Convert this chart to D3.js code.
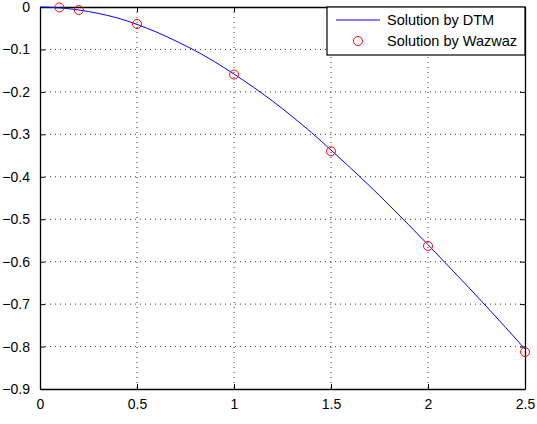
<html>
<head>
    <meta charset="utf-8">
    <title>Solution by DTM vs Wazwaz</title>
    <style>
        body { margin: 0; background: #fff; }
        text { font-family: "Liberation Sans", Arial, Helvetica, sans-serif; }
    </style>
</head>
<body>
    <script src="https://cdn.jsdelivr.net/npm/d3@7"></script>
    <script>
        var width = 537, height = 424;
        var margin = { left: 40, right: 12, top: 7, bottom: 35 };

        // DTM curve
        const dtmX = [0, 0.1, 0.2, 0.3, 0.4, 0.5, 0.6, 0.7, 0.8, 0.9, 1.0, 1.1, 1.2,
            1.3, 1.4, 1.5, 1.6, 1.7, 1.8, 1.9, 2.0, 2.1, 2.2, 2.3, 2.4, 2.5];
        const dtmY = [0, -0.002, -0.007, -0.015, -0.026, -0.041, -0.059, -0.080, -0.103,
            -0.129, -0.158, -0.189, -0.222, -0.258, -0.296, -0.337, -0.379, -0.422,
            -0.467, -0.513, -0.560, -0.608, -0.656, -0.705, -0.755, -0.806];

        // Wazwaz points
        const wazX = [0.1, 0.2, 0.5, 1, 1.5, 2, 2.5];
        const wazY = [-0.001, -0.007, -0.040, -0.159, -0.340, -0.563, -0.813];

        const xTicks = [0, 0.5, 1, 1.5, 2, 2.5];
        const yTicks = [0, -0.1, -0.2, -0.3, -0.4, -0.5, -0.6, -0.7, -0.8, -0.9];
        const legendLabels = ["Solution by DTM", "Solution by Wazwaz"];

        var svg = d3.select("body").append("svg")
            .attr("width", width)
            .attr("height", height);

        var x = d3.scaleLinear().domain([0, 2.5]).range([margin.left, width - margin.right]);
        var y = d3.scaleLinear().domain([-0.9, 0]).range([height - margin.bottom, margin.top]);

        var fmt = function (d) { return d === 0 ? "0" : String(d).replace("-", "\u2212"); };

        // grid
        var grid = svg.append("g");
        grid.selectAll(".gx").data(xTicks.slice(1, -1)).enter().append("line")
            .attr("x1", d => x(d)).attr("x2", d => x(d))
            .attr("y1", y(0)).attr("y2", y(-0.9))
            .attr("stroke", "#333").attr("stroke-width", 1).attr("stroke-dasharray", "1,4");
        grid.selectAll(".gy").data(yTicks.slice(1, -1)).enter().append("line")
            .attr("y1", d => y(d)).attr("y2", d => y(d))
            .attr("x1", x(0)).attr("x2", x(2.5))
            .attr("stroke", "#333").attr("stroke-width", 1).attr("stroke-dasharray", "1,4");

        // axes, ticks inward
        svg.append("g").attr("transform", "translate(0," + y(-0.9) + ")")
            .call(d3.axisBottom(x).tickValues(xTicks).tickSizeInner(-5).tickSizeOuter(0).tickPadding(10).tickFormat(fmt));
        svg.append("g").attr("transform", "translate(0," + y(0) + ")")
            .call(d3.axisTop(x).tickValues(xTicks).tickSizeInner(-5).tickSizeOuter(0).tickFormat(""));
        svg.append("g").attr("transform", "translate(" + x(0) + ",0)")
            .call(d3.axisLeft(y).tickValues(yTicks).tickSizeInner(-5).tickSizeOuter(0).tickPadding(10).tickFormat(fmt));
        svg.append("g").attr("transform", "translate(" + x(2.5) + ",0)")
            .call(d3.axisRight(y).tickValues(yTicks).tickSizeInner(-5).tickSizeOuter(0).tickFormat(""));

        svg.selectAll(".domain").attr("stroke", "#000").attr("stroke-width", 1.3);
        svg.selectAll(".tick line").attr("stroke", "#000");
        svg.selectAll(".tick text")
            .style("font-size", "14px").attr("fill", "#000")
            .style("font-family", "'Liberation Sans', Arial, sans-serif");

        // DTM line
        var line = d3.line().x((d, i) => x(dtmX[i])).y(d => y(d)).curve(d3.curveMonotoneX);
        svg.append("path").datum(dtmY)
            .attr("d", line)
            .attr("fill", "none").attr("stroke", "#0000ff").attr("stroke-width", 1);

        // Wazwaz markers
        svg.selectAll(".waz").data(wazY).enter().append("circle")
            .attr("cx", (d, i) => x(wazX[i])).attr("cy", d => y(d)).attr("r", 4.5)
            .attr("fill", "none").attr("stroke", "#ff0000").attr("stroke-width", 1);

        // legend
        var lg = svg.append("g");
        lg.append("rect").attr("x", 327).attr("y", y(0)).attr("width", x(2.5) - 327).attr("height", 48)
            .attr("fill", "#fff").attr("stroke", "#000").attr("stroke-width", 1.2);
        lg.append("line").attr("x1", 336).attr("x2", 380).attr("y1", 20).attr("y2", 20)
            .attr("stroke", "#0000ff").attr("stroke-width", 1);
        lg.append("circle").attr("cx", 358).attr("cy", 41).attr("r", 4.5)
            .attr("fill", "none").attr("stroke", "#ff0000").attr("stroke-width", 1);
        lg.selectAll(".lt").data(legendLabels).enter().append("text")
            .attr("x", 387).attr("y", (d, i) => 25 + i * 21)
            .style("font-size", "14.5px")
            .text(d => d);
    </script>
</body>
</html>
